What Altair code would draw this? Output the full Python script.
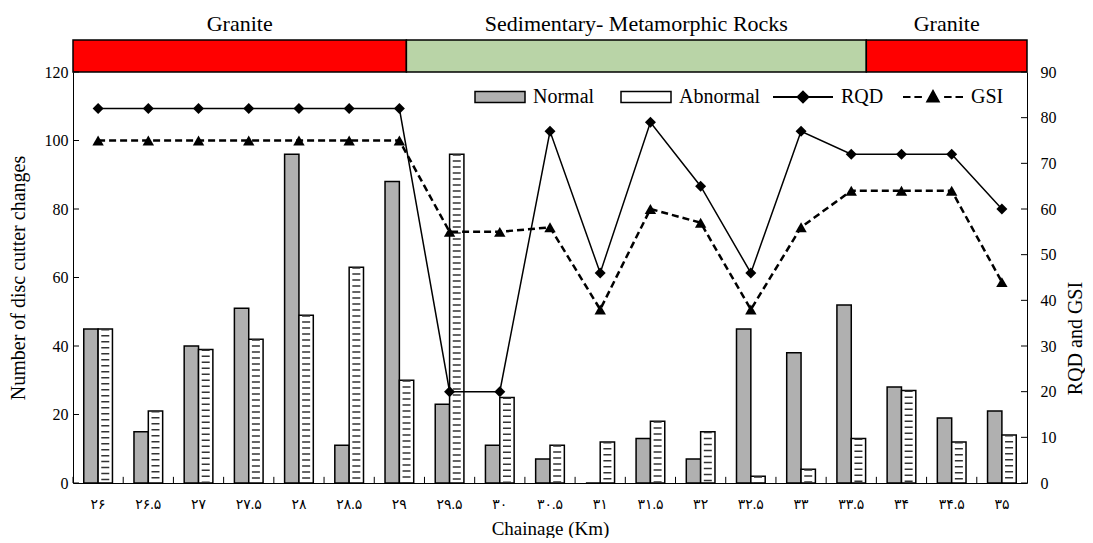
import altair as alt
import pandas as pd

# ---------------- data ----------------
chainage_labels = ["۲۶", "۲۶.۵", "۲۷", "۲۷.۵", "۲۸", "۲۸.۵", "۲۹", "۲۹.۵", "۳۰", "۳۰.۵",
                   "۳۱", "۳۱.۵", "۳۲", "۳۲.۵", "۳۳", "۳۳.۵", "۳۴", "۳۴.۵", "۳۵"]
normal_changes = [45, 15, 40, 51, 96, 11, 88, 23, 11, 7, 0, 13, 7, 45, 38, 52, 28, 19, 21]
abnormal_changes = [45, 21, 39, 42, 49, 63, 30, 96, 25, 11, 12, 18, 15, 2, 4, 13, 27, 12, 14]
rqd_values = [82, 82, 82, 82, 82, 82, 82, 20, 20, 77, 46, 79, 65, 46, 77, 72, 72, 72, 60]
gsi_values = [75, 75, 75, 75, 75, 75, 75, 55, 55, 56, 38, 60, 57, 38, 56, 64, 64, 64, 44]

geo_names = ["Granite", "Sedimentary- Metamorphic Rocks", "Granite"]
geo_start = [25.75, 29.07, 33.65]
geo_end = [29.07, 33.65, 35.25]
rock_types = ["Granite", "Sedimentary- Metamorphic Rocks"]

bar_types = ["Normal", "Abnormal"]
series_names = ["RQD", "GSI"]
left_ticks = [0, 20, 40, 60, 80, 100, 120]
right_ticks = [0, 10, 20, 30, 40, 50, 60, 70, 80, 90]

# ---------------- tables ----------------
n = len(chainage_labels)
bars_df = pd.DataFrame({
    "chainage": chainage_labels * 2,
    "type": [bar_types[0]] * n + [bar_types[1]] * n,
    "count": normal_changes + abnormal_changes,
})
lines_df = pd.DataFrame({"chainage": chainage_labels, "RQD": rqd_values, "GSI": gsi_values})
xticks_df = pd.DataFrame({"chainage": chainage_labels})
lticks_df = pd.DataFrame({"v": left_ticks})
rticks_df = pd.DataFrame({"v": right_ticks})
geo_df = pd.DataFrame({"rock": geo_names, "start": geo_start, "end": geo_end})
legend_df = pd.DataFrame({"series": series_names})

# ---------------- style ----------------
W, H = 954, 411
SERIF = "Liberation Serif"
DIGITS = "Liberation Serif, DejaVu Sans"

x_scale = alt.Scale(domain=chainage_labels, paddingInner=0, paddingOuter=0)
x_axis = alt.Axis(title="Chainage (Km)", labelAngle=0, tickSize=0, labelPadding=14,
                  labelFont=DIGITS, labelFontSize=14, titleFont=SERIF, titleFontSize=19,
                  titlePadding=8, titleFontWeight="normal", domainColor="black",
                  labelColor="black", titleColor="black")


def xenc(**kw):
    return alt.X("chainage:N", scale=x_scale, axis=x_axis, **kw)


off_scale = alt.Scale(domain=bar_types, paddingInner=0, paddingOuter=0.75)

left_scale = alt.Scale(domain=[0, 120], nice=False, zero=True)
left_axis = alt.Axis(title="Number of disc cutter changes", values=left_ticks, tickSize=0,
                     labelPadding=5, titlePadding=16, labelFont=SERIF, labelFontSize=16,
                     titleFont=SERIF, titleFontSize=20, titleFontWeight="normal", grid=False,
                     domainColor="black", labelColor="black", titleColor="black")

right_scale = alt.Scale(domain=[0, 90], nice=False, zero=True)
right_axis = alt.Axis(orient="right", title="RQD  and GSI", values=right_ticks, tickSize=0,
                      labelPadding=13, titlePadding=9, titleAngle=270, titleBaseline="top",
                      titleY=266, labelFont=SERIF, labelFontSize=16, titleFont=SERIF,
                      titleFontSize=20, titleFontWeight="normal", grid=False,
                      domainColor="black", labelColor="black", titleColor="black")

RECT_SYM = "M-1,-0.22H1V0.22H-1Z"
RQD_SYM = "M-1,0H1M0,-0.18L0.18,0L0,0.18L-0.18,0Z"
GSI_SYM = ("M-1,0H-0.75M-0.62,0H-0.37M0.37,0H0.62M0.75,0H1"
           "M-0.19,0.15L0,-0.2L0.19,0.15Z")

fill_legend = alt.Legend(title=None, orient="none", legendX=401, legendY=-1,
                         direction="horizontal", symbolType=RECT_SYM, symbolSize=2500,
                         symbolStrokeWidth=1.5, labelFont=SERIF, labelFontSize=20,
                         labelColor="black", labelOffset=7, columnPadding=23, padding=0)
shape_legend = alt.Legend(title=None, orient="none", legendX=699, legendY=-6,
                          direction="horizontal", symbolSize=3600, symbolStrokeWidth=2,
                          labelFont=SERIF, labelFontSize=20, labelColor="black",
                          labelOffset=7, columnPadding=15, padding=0)

# ---------------- left (counts) ----------------
bars = alt.Chart(bars_df).mark_bar(stroke="black", strokeWidth=1.5, opacity=1).encode(
    x=xenc(),
    xOffset=alt.XOffset("type:N", scale=off_scale),
    y=alt.Y("count:Q", scale=left_scale, axis=left_axis),
    fill=alt.Fill("type:N", scale=alt.Scale(domain=bar_types, range=["#b0b0b0", "white"]),
                  legend=fill_legend),
)

dashes = alt.Chart(bars_df).transform_filter(alt.datum.type == "Abnormal").mark_rule(
    color="#333333", strokeWidth=8, strokeDash=[1.5, 4.5]
).encode(
    x=xenc(),
    xOffset=alt.XOffset("type:N", scale=off_scale),
    y=alt.Y("count:Q", scale=left_scale, axis=left_axis),
    y2=alt.datum(0),
)

xticks = alt.Chart(xticks_df).mark_rule(color="black", strokeWidth=1).encode(
    x=xenc(bandPosition=0),
    y=alt.YDatum(0, scale=left_scale, axis=left_axis),
    y2=alt.Y2Datum(1.8),
)

lticks = alt.Chart(lticks_df).mark_rule(color="black", strokeWidth=1).encode(
    y=alt.Y("v:Q", scale=left_scale, axis=left_axis),
    x=alt.value(0), x2=alt.value(6),
)

left_group = alt.layer(bars, dashes, xticks, lticks)

# ---------------- right (RQD / GSI) ----------------
rqd_line = alt.Chart(lines_df).mark_line(color="black", strokeWidth=1.5).encode(
    x=xenc(), y=alt.Y("RQD:Q", scale=right_scale, axis=right_axis))
rqd_pts = alt.Chart(lines_df).mark_point(shape="diamond", filled=True, color="black",
                                         size=121, opacity=1).encode(
    x=xenc(), y=alt.Y("RQD:Q", scale=right_scale, axis=right_axis))
gsi_line = alt.Chart(lines_df).mark_line(color="black", strokeWidth=2.5,
                                         strokeDash=[7, 4]).encode(
    x=xenc(), y=alt.Y("GSI:Q", scale=right_scale, axis=right_axis))
gsi_pts = alt.Chart(lines_df).mark_point(shape="triangle-up", filled=True, color="black",
                                         size=130, opacity=1).encode(
    x=xenc(), y=alt.Y("GSI:Q", scale=right_scale, axis=right_axis))
rticks = alt.Chart(rticks_df).mark_rule(color="black", strokeWidth=1).encode(
    y=alt.Y("v:Q", scale=right_scale, axis=right_axis),
    x=alt.value(W - 6), x2=alt.value(W),
)
legend_layer = alt.Chart(legend_df).transform_filter("false").mark_point(
    filled=True, fill="black", stroke="black", strokeWidth=2, opacity=1
).encode(
    shape=alt.Shape("series:N", scale=alt.Scale(domain=series_names, range=[RQD_SYM, GSI_SYM]),
                    legend=shape_legend)
)

right_group = alt.layer(rqd_line, gsi_line, rqd_pts, gsi_pts, rticks, legend_layer)

main = alt.layer(left_group, right_group).resolve_scale(y="independent").properties(
    width=W, height=H)

# ---------------- geology band ----------------
gx = alt.Scale(domain=[25.75, 35.25], nice=False, zero=False)
gy = alt.Scale(domain=[0, 2], nice=False, zero=True)
rects = alt.Chart(geo_df).mark_rect(stroke="black", strokeWidth=1.5, opacity=1).encode(
    x=alt.X("start:Q", scale=gx, axis=None),
    x2="end:Q",
    y=alt.YDatum(0, scale=gy, axis=None),
    y2=alt.Y2Datum(1),
    color=alt.Color("rock:N", scale=alt.Scale(domain=rock_types, range=["#ff0000", "#b9d4a7"]),
                    legend=None),
)
texts = alt.Chart(geo_df).transform_calculate(mid="(datum.start + datum.end) / 2").mark_text(
    font=SERIF, fontSize=22, color="black"
).encode(
    x=alt.X("mid:Q", scale=gx, axis=None),
    y=alt.YDatum(1.5, scale=gy, axis=None),
    text="rock:N",
)
band = alt.layer(rects, texts).properties(width=W, height=64)

chart = alt.vconcat(band, main, spacing=0, bounds="flush").resolve_scale(
    fill="independent", shape="independent", color="independent"
).resolve_legend(
    fill="independent", shape="independent", color="independent"
).properties(
    padding={"left": 0, "top": 0, "right": 0, "bottom": 0}
).configure_view(stroke=None)

chart.save("out.html", embed_options={"renderer": "svg", "actions": False})
